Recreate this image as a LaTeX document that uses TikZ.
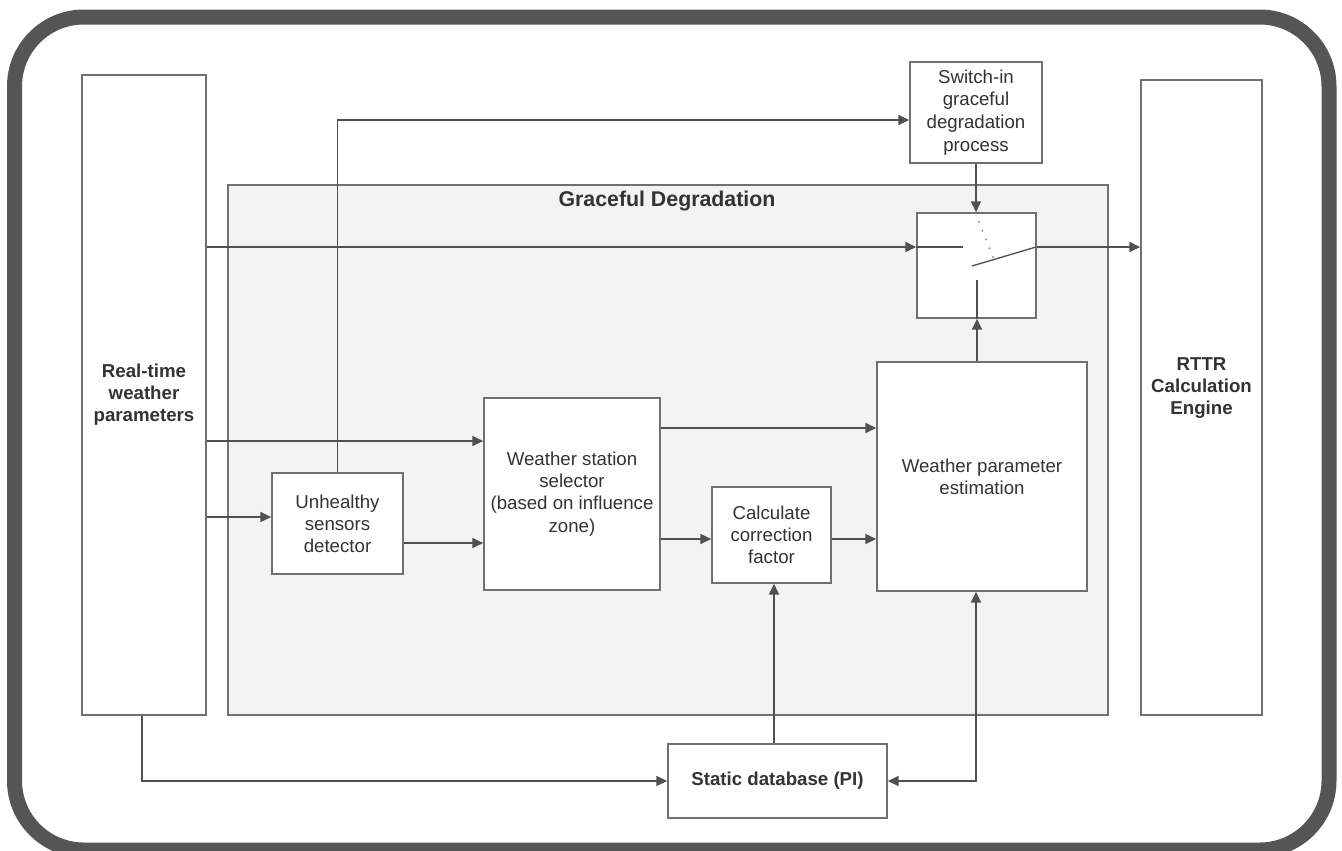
\documentclass[tikz,border=0pt]{standalone}
\usepackage{fontspec}
\setmainfont{Liberation Sans}
\usetikzlibrary{arrows.meta,calc}
\definecolor{framec}{HTML}{555555}
\definecolor{boxc}{HTML}{707070}
\definecolor{linec}{HTML}{505050}
\definecolor{txtc}{HTML}{333333}
\definecolor{gdfill}{HTML}{F3F3F3}
\tikzset{
  blk/.style={draw=boxc, line width=1.3pt, fill=white, inner sep=0pt, text=txtc, align=center,
              font=\fontsize{14}{16.6}\selectfont},
  conn/.style={draw=linec, line width=1pt},
  arr/.style={conn, -{Triangle[length=8pt,width=7.5pt]}},
  barr/.style={conn, {Triangle[length=8pt,width=7.5pt]}-{Triangle[length=8pt,width=7.5pt]}},
}
\begin{document}
\begin{tikzpicture}[x=0.75pt,y=-0.75pt]
\useasboundingbox (0,0) rectangle (1342,850);
\fill[white] (0,0) rectangle (1342,850);
% outer frame
\draw[framec, line width=11.25pt, rounded corners=52pt] (14.5,17) rectangle (1329,850);

% graceful degradation area
\node[draw=boxc, line width=1.3pt, fill=gdfill, minimum width={880*0.75pt}, minimum height={530*0.75pt}, inner sep=0pt] (gd) at (668,450) {};
\node[text=txtc, font=\fontsize{16}{19}\selectfont\bfseries] (gdt) at (667,201) {Graceful Degradation};

% side blocks
\node[blk, minimum width={124*0.75pt}, minimum height={640*0.75pt}] (rt) at (144,395) {};
\node[text=txtc, align=center, font=\fontsize{14}{16.6}\selectfont\bfseries] (rtt) at (144,395) {Real-time\\weather\\parameters};
\node[blk, minimum width={121*0.75pt}, minimum height={635*0.75pt}] (rttr) at (1201.5,397.5) {};
\node[text=txtc, align=center, font=\fontsize{14}{16.6}\selectfont\bfseries] (rttrt) at (1201.5,388) {RTTR\\Calculation\\Engine};

% inner blocks
\node[blk, minimum width={132*0.75pt}, minimum height={101*0.75pt}, font=\fontsize{14}{17}\selectfont] (sw) at (976,112.5) {Switch-in\\graceful\\degradation\\process};
\node[blk, minimum width={119*0.75pt}, minimum height={105*0.75pt}] (swb) at (976.5,265.5) {};
\node[blk, minimum width={131*0.75pt}, minimum height={101*0.75pt}] (uh) at (337.5,523.5) {Unhealthy\\sensors\\detector};
\node[blk, minimum width={176*0.75pt}, minimum height={192*0.75pt}] (sel) at (572,494) {Weather station\\selector\\(based on influence\\zone)};
\node[blk, minimum width={119*0.75pt}, minimum height={96*0.75pt}] (cc) at (771.5,535) {Calculate\\correction\\factor};
\node[blk, minimum width={210*0.75pt}, minimum height={229*0.75pt}] (est) at (982,476.5) {Weather parameter\\estimation};
\node[blk, minimum width={219*0.75pt}, minimum height={74*0.75pt}, font=\fontsize{14}{16.6}\selectfont\bfseries] (db) at (777.5,781) {Static database (PI)};

% switch internals
\coordinate (swin) at (963,247);
\coordinate (bladeA) at (972,266);
\coordinate (bladeB) at (1036,247);
\coordinate (lowc) at (977,280);
\draw[arr] (rt.east |- swin) -- (swb.west |- swin);
\draw[conn] (swb.west |- swin) -- (swin);
\draw[conn] (bladeA) -- (bladeB);
\draw[conn] (lowc) -- (lowc |- swb.south);
\foreach \i in {0,...,4} \fill[linec!60] ($(979,222)!\i/4!(993,257)$) circle (0.9pt);
\draw[arr] (swb.east |- bladeB) -- (rttr.west |- bladeB);
\draw[arr] (sw.south) -- (sw.south |- swb.north);
\draw[arr] (lowc |- est.north) -- (lowc |- swb.south);

% connectors
\draw[arr] (rt.east |- 0,441) -- (sel.west |- 0,441);
\draw[arr] (rt.east |- 0,517) -- (uh.west |- 0,517);
\draw[arr] (uh.east |- 0,543) -- (sel.west |- 0,543);
\coordinate (uhup) at (337.5,120);
\draw[arr] (uh.north) -- (uhup) -- (sw.west |- uhup);
\draw[arr] (sel.east |- 0,428) -- (est.west |- 0,428);
\draw[arr] (sel.east |- 0,539) -- (cc.west |- 0,539);
\draw[arr] (cc.east |- 0,539) -- (est.west |- 0,539);
\coordinate (dbcc) at (774,0);
\draw[arr] (dbcc |- db.north) -- (dbcc |- cc.south);
\coordinate (estdb) at (976,781);
\draw[barr] (db.east |- estdb) -- (estdb) -- (estdb |- est.south);
\coordinate (rtdb) at (142,781);
\draw[arr] (rtdb |- rt.south) -- (rtdb) -- (db.west |- rtdb);
\end{tikzpicture}
\end{document}
